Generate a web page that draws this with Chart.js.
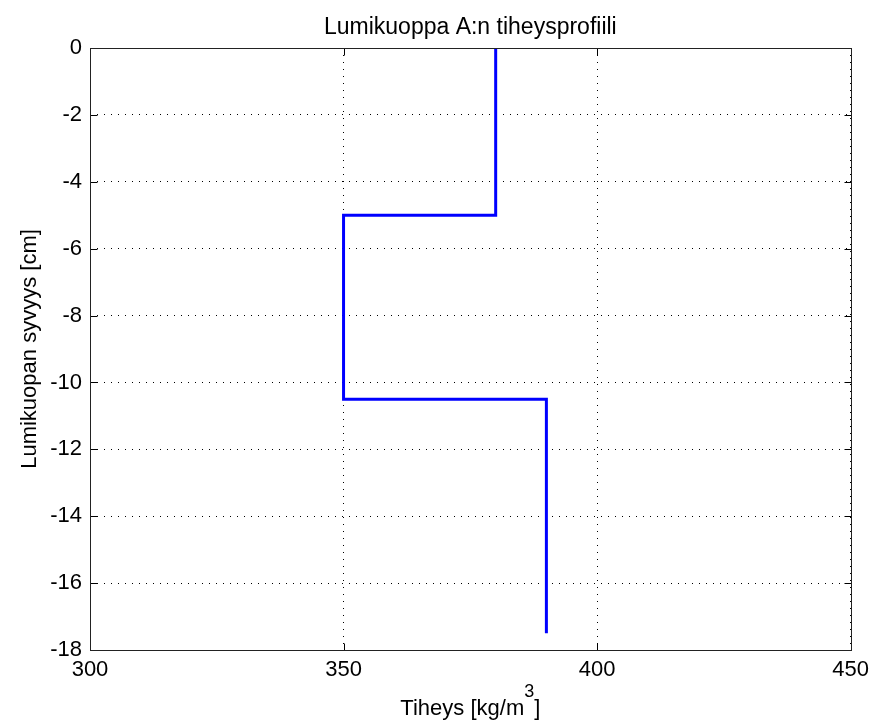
<!DOCTYPE html>
<html>
<head>
<meta charset="utf-8">
<title>Lumikuoppa A:n tiheysprofiili</title>
<script src="https://cdn.jsdelivr.net/npm/chart.js@4/dist/chart.umd.min.js"></script>
<style>
  html, body { margin: 0; padding: 0; background: #fff; }
  canvas { display: block; }
</style>
</head>
<body>
<canvas id="profile_chart" width="876" height="722"></canvas>
<script>
// Density profile of snow pit A (step profile, depth in cm)
const density = [380, 380, 350, 350, 390, 390];
const depth   = [0, -5, -5, -10.5, -10.5, -17.5];

const xTicks = [300, 350, 400, 450];
const yTicks = [0, -2, -4, -6, -8, -10, -12, -14, -16, -18];

const titleText = 'Lumikuoppa A:n tiheysprofiili';
const xLabel    = 'Tiheys [kg/m';
const yLabel    = 'Lumikuopan syvyys [cm]';

const fontFamily = '"Liberation Sans", Arial, sans-serif';
const textSize   = 22;
const titleSize  = 23;
const supSize    = 18;

// frame, inward tick marks and the text round the axes
const framePlugin = {
    id: 'frame',
    afterDraw( chart )
    {
        const ctx  = chart.ctx;
        const area = chart.chartArea;
        const xs   = chart.scales.x;
        const ys   = chart.scales.y;
        const tick = 7;

        const l = Math.round(area.left) + 0.5;
        const r = Math.round(area.right) + 0.5;
        const t = Math.round(area.top) + 0.5;
        const b = Math.round(area.bottom) + 0.5;

        ctx.save();
        ctx.strokeStyle = '#000';
        ctx.lineWidth   = 1;
        ctx.setLineDash([]);

        ctx.beginPath();
        xTicks.forEach( ( v ) => {
            const px = Math.round(xs.getPixelForValue(v)) + 0.5;
            ctx.moveTo(px, b);
            ctx.lineTo(px, b - tick);
            ctx.moveTo(px, t);
            ctx.lineTo(px, t + tick);
        });
        yTicks.forEach( ( v ) => {
            const py = Math.round(ys.getPixelForValue(v)) + 0.5;
            ctx.moveTo(l, py);
            ctx.lineTo(l + tick, py);
            ctx.moveTo(r, py);
            ctx.lineTo(r - tick, py);
        });
        ctx.stroke();

        ctx.strokeStyle = '#222';
        ctx.strokeRect(l, t, r - l, b - t);

        ctx.fillStyle = '#000';
        const cx = (area.left + area.right) / 2;

        // title
        ctx.font         = titleSize + 'px ' + fontFamily;
        ctx.textAlign    = 'center';
        ctx.textBaseline = 'alphabetic';
        ctx.fillText(titleText, cx, 34);

        // x axis title, m with superscript 3
        ctx.font = textSize + 'px ' + fontFamily;
        const w1 = ctx.measureText(xLabel).width;
        const w3 = ctx.measureText(']').width;
        ctx.font = supSize + 'px ' + fontFamily;
        const w2 = ctx.measureText('3').width;
        const x0 = cx - (w1 + w2 + w3) / 2;
        ctx.textAlign = 'left';
        ctx.fillText('3', x0 + w1, 697);
        ctx.font = textSize + 'px ' + fontFamily;
        ctx.fillText(xLabel, x0, 715);
        ctx.fillText(']', x0 + w1 + w2, 715);

        // y axis title
        ctx.translate(36, (area.top + area.bottom) / 2);
        ctx.rotate(-Math.PI / 2);
        ctx.textAlign = 'center';
        ctx.fillText(yLabel, 0, 0);
        ctx.restore();
    }
};

const ctx = document.getElementById('profile_chart');

new Chart(ctx, {
    type: 'line',
    data: {
        datasets: [{
            data: density.map( ( d, i ) => ({ x: d, y: depth[i] }) ),
            borderColor: '#0000ff',
            borderWidth: 3,
            pointRadius: 0,
            fill: false,
            tension: 0
        }]
    },
    options: {
        responsive: false,
        animation: false,
        events: [],
        layout: { padding: { top: 48, right: 22, left: 0, bottom: 0 } },
        plugins: {
            legend: { display: false },
            tooltip: { enabled: false }
        },
        scales: {
            x: {
                type: 'linear',
                min: 300,
                max: 450,
                afterFit: ( scale ) => { scale.height = 72; },
                afterBuildTicks: ( scale ) => { scale.ticks = xTicks.map( ( v ) => ({ value: v }) ); },
                // dotted grid lines (v4 takes the dash from border)
                border: { display: false, dash: [1, 6] },
                grid: {
                    drawTicks: false,
                    color: '#000',
                    lineWidth: 1
                },
                ticks: {
                    padding: 7,
                    color: '#000',
                    maxRotation: 0,
                    font: { family: fontFamily, size: textSize }
                }
            },
            y: {
                type: 'linear',
                min: -18,
                max: 0,
                afterFit: ( scale ) => { scale.width = 90; },
                afterBuildTicks: ( scale ) => { scale.ticks = yTicks.map( ( v ) => ({ value: v }) ); },
                border: { display: false, dash: [1, 6] },
                grid: {
                    drawTicks: false,
                    color: '#000',
                    lineWidth: 1
                },
                ticks: {
                    padding: 8,
                    color: '#000',
                    font: { family: fontFamily, size: textSize }
                }
            }
        }
    },
    plugins: [framePlugin]
});
</script>
</body>
</html>
